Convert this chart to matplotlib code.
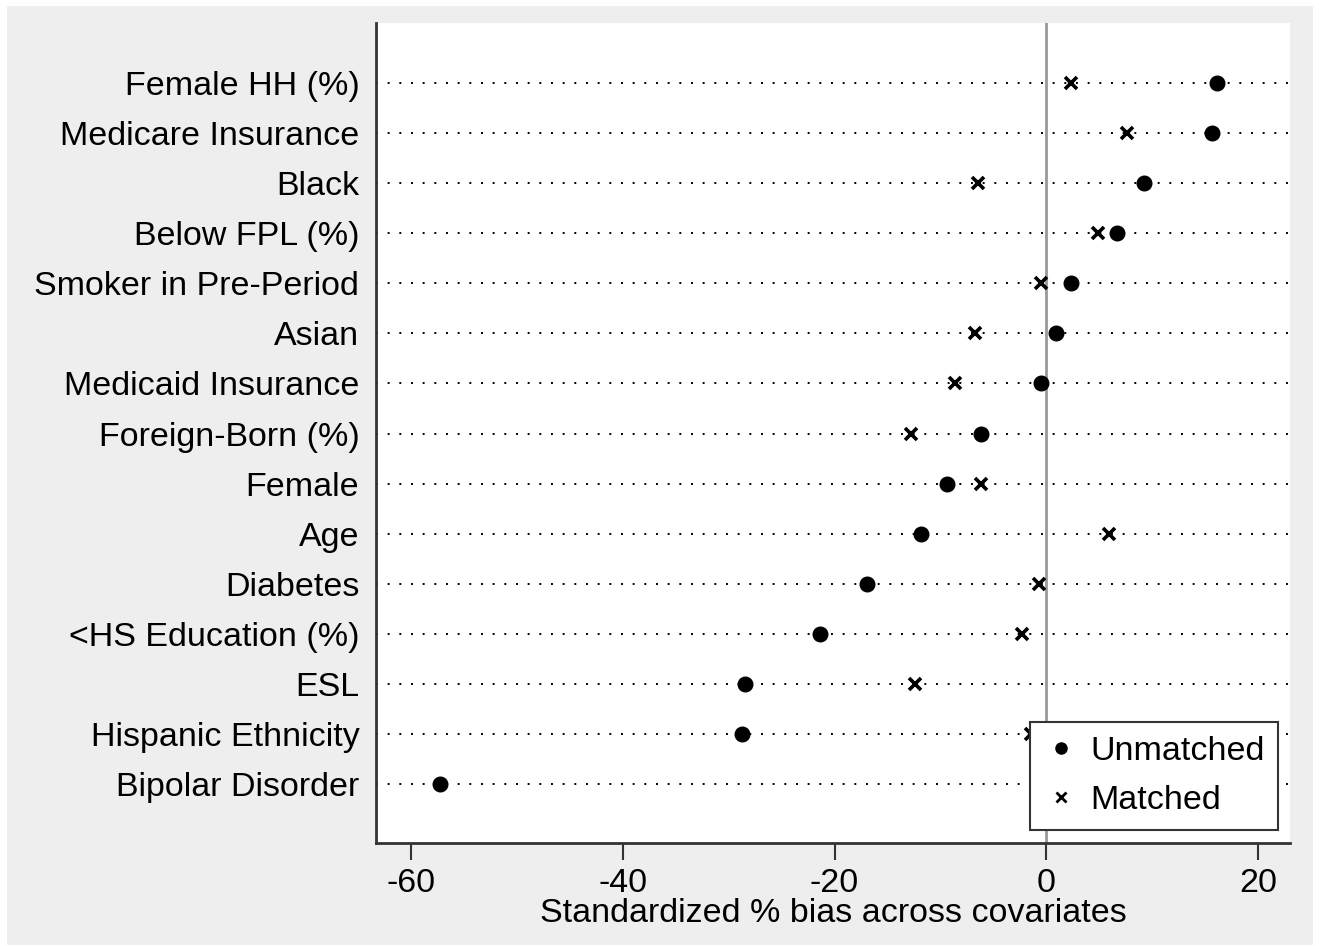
import matplotlib
matplotlib.use("Agg")
import matplotlib.pyplot as plt
from matplotlib.patches import Rectangle
from matplotlib.lines import Line2D

# covariates, top to bottom
covariates = ["Female HH (%)", "Medicare Insurance", "Black", "Below FPL (%)",
              "Smoker in Pre-Period", "Asian", "Medicaid Insurance",
              "Foreign-Born (%)", "Female", "Age", "Diabetes",
              "<HS Education (%)", "ESL", "Hispanic Ethnicity", "Bipolar Disorder"]
unmatched = [16.1, 15.6, 9.2, 6.7, 2.3, 0.9, -0.5, -6.2, -9.4, -11.8,
             -16.9, -21.4, -28.5, -28.7, -57.3]
matched = [2.3, 7.6, -6.5, 4.9, -0.5, -6.7, -8.6, -12.8, -6.2, 5.9,
           -0.7, -2.3, -12.4, -1.5, 1.0]
xticks = [-60, -40, -20, 0, 20]

plt.rcParams["font.family"] = ["Liberation Sans", "DejaVu Sans"]
fs = 24.5

fig = plt.figure(figsize=(13.19, 9.46), dpi=100)
fig.patch.set_facecolor("white")
# gray graph region like Stata
fig.patches.append(Rectangle((7 / 1319, 1 / 946), 1306 / 1319, 939 / 946,
                             transform=fig.transFigure, facecolor="#eeeeee",
                             edgecolor="none", zorder=-10))

ax = fig.add_axes([376 / 1319, 1 - 843 / 946, 914 / 1319, 820 / 946])
ax.set_facecolor("white")

ypos = list(range(len(covariates)))
for y in ypos:
    ax.axhline(y, color="black", linestyle=(0, (1, 5)), linewidth=1.4, zorder=1)
ax.axvline(0, color="#999999", linewidth=2, zorder=2)

ax.plot(unmatched, ypos, "o", color="black", markersize=10.5, linestyle="none",
        zorder=3, label="Unmatched")
ax.plot(matched, ypos, "x", color="black", markersize=9, markeredgewidth=2.6,
        linestyle="none", zorder=3, label="Matched")

ax.set_ylim(len(covariates) - 1 + 1.18, -1.2)
ax.set_xlim(-63.3, 23.0)
ax.set_yticks(ypos)
ax.set_yticklabels(covariates, fontsize=fs)
ax.set_xticks(xticks)
ax.set_xticklabels([str(t) for t in xticks], fontsize=fs)
ax.tick_params(axis="y", length=0, pad=12)
ax.tick_params(axis="x", length=12, width=1.5, color="#333333", pad=6)
ax.set_xlabel("Standardized % bias across covariates", fontsize=fs, labelpad=-1)

for s in ["top", "right"]:
    ax.spines[s].set_visible(False)
for s in ["left", "bottom"]:
    ax.spines[s].set_color("#333333")
    ax.spines[s].set_linewidth(2)

handles = [Line2D([], [], marker="o", color="black", linestyle="none", markersize=8),
           Line2D([], [], marker="x", color="black", linestyle="none", markersize=7,
                  markeredgewidth=2)]
leg = ax.legend(handles, ["Unmatched", "Matched"], loc="lower right",
                bbox_to_anchor=(1 - 12 / 914, 13 / 820), fontsize=fs,
                frameon=True, fancybox=False, framealpha=1, edgecolor="#333333",
                borderpad=0.4, handletextpad=0.35, handlelength=1.0,
                labelspacing=0.55, borderaxespad=0)
leg.get_frame().set_linewidth(1.5)

fig.savefig("out.png", dpi=100)
